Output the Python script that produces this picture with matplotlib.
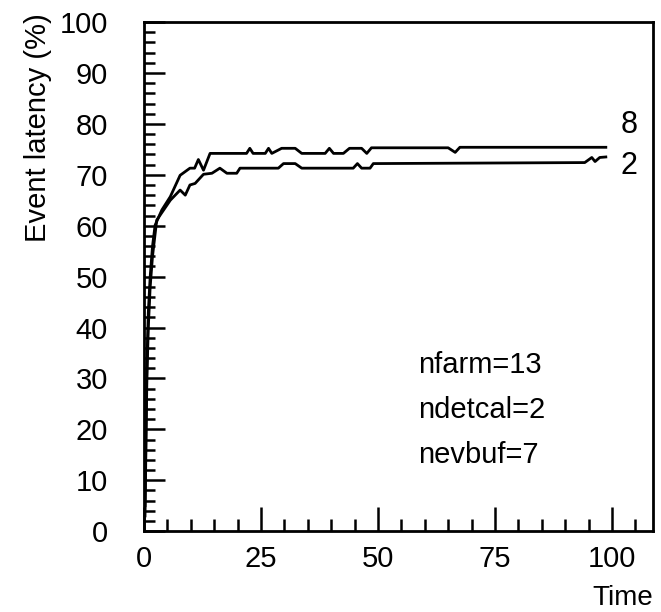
import matplotlib
matplotlib.use('Agg')
import matplotlib.pyplot as plt
from matplotlib.ticker import MultipleLocator

plt.rcParams['font.family'] = ['Liberation Sans', 'DejaVu Sans']

# curve "8"
t8 = [0.2, 0.4, 0.6, 0.9, 1.3, 1.8, 2.35, 3.8, 5.6, 7.7, 9.8, 10.8, 11.6, 12.7,
      14.1, 21.9, 22.6, 23.3, 25.9, 26.6, 27.3, 29.4, 32.3, 33.7, 38.7, 39.6,
      40.5, 42.6, 43.9, 46.5, 47.6, 48.6, 65.0, 66.5, 67.5, 98.7]
y8 = [5, 20, 33, 43, 50, 56, 60.1, 63.1, 65.7, 69.9, 71.3, 71.3, 73.0, 70.9,
      74.2, 74.2, 75.2, 74.2, 74.2, 75.2, 74.2, 75.2, 75.2, 74.2, 74.2, 75.2,
      74.2, 74.2, 75.2, 75.2, 74.2, 75.3, 75.3, 74.4, 75.4, 75.4]

# curve "2"
t2 = [0.2, 0.4, 0.6, 0.9, 1.3, 1.8, 2.7, 5.6, 7.7, 8.8, 9.8, 10.9, 12.7, 14.5,
      16.2, 17.7, 19.8, 20.5, 28.7, 29.8, 32.3, 33.7, 44.7, 45.6, 46.5, 48.3,
      49.0, 94.2, 95.7, 96.4, 97.4, 98.7]
y2 = [3, 17, 30, 40, 48, 54, 61.1, 65.0, 67.0, 66.0, 68.0, 68.3, 70.1, 70.3,
      71.3, 70.3, 70.3, 71.3, 71.3, 72.2, 72.2, 71.3, 71.3, 72.2, 71.3, 71.3,
      72.2, 72.4, 73.4, 72.6, 73.4, 73.5]

curve_labels = ['8', '2']
params = ['nfarm=13', 'ndetcal=2', 'nevbuf=7']

fs = 21
fig = plt.figure(figsize=(6.61, 6.12), dpi=100)
ax = fig.add_axes([0.218, 0.132, 0.770, 0.832])

ax.plot(t8, y8, color='black', lw=2.0)
ax.plot(t2, y2, color='black', lw=2.0)

ax.set_xlim(0, 108.8)
ax.set_ylim(0, 100)

ax.xaxis.set_major_locator(MultipleLocator(25))
ax.xaxis.set_minor_locator(MultipleLocator(5))
ax.yaxis.set_major_locator(MultipleLocator(10))
ax.yaxis.set_minor_locator(MultipleLocator(2))
ax.tick_params(which='both', direction='in', top=False, right=False, width=1.8)
ax.tick_params(axis='x', which='major', length=17, labelsize=fs, pad=10)
ax.tick_params(axis='x', which='minor', length=9)
ax.tick_params(axis='y', which='major', length=15, labelsize=fs, pad=26)
ax.tick_params(axis='y', which='minor', length=8)
for sp in ax.spines.values():
    sp.set_linewidth(2)

ax.text(103.6, 79.8, curve_labels[0], ha='center', va='center', fontsize=fs + 1)
ax.text(103.6, 71.7, curve_labels[1], ha='center', va='center', fontsize=fs + 1)

for i, s in enumerate(params):
    ax.text(58.5, 32.6 - 8.8 * i, s, ha='left', va='center', fontsize=fs)

fig.text(653 / 661, 7 / 612, 'Time', ha='right', va='baseline', fontsize=20)
fig.text(38 / 661, 1 - 128 / 612, 'Event latency (%)', rotation=90,
         ha='center', va='center', fontsize=fs)

fig.savefig('out.png', dpi=100)
